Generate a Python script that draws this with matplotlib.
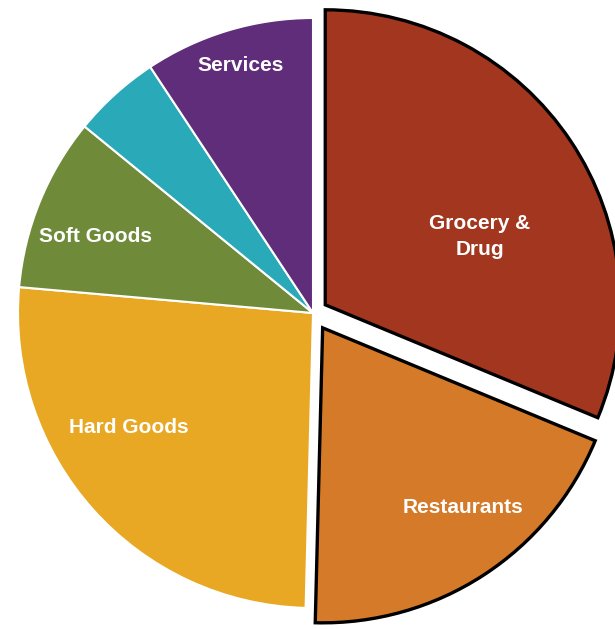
import numpy as np
import matplotlib
matplotlib.use('Agg')
import matplotlib.pyplot as plt

plt.rcParams['font.family'] = ['Liberation Sans', 'DejaVu Sans']

# share of spending by category, clockwise from 12 o'clock
categories = ['Grocery &\nDrug', 'Restaurants', 'Hard Goods', 'Soft Goods', '', 'Services']
shares = [31.25, 19.15, 26.0, 9.5, 4.8, 9.3]
colors = ['#A3361F', '#D47A28', '#E8A823', '#6F8B3A', '#2AAAB8', '#5F2D7A']
explode = [0.05, 0.06, 0, 0, 0, 0]
highlighted = [True, True, False, False, False, False]

# label placement inside each wedge: (angle offset from wedge middle in degrees, radius)
label_layout = [(-10, 0.573), (5, 0.775), (-10, 0.735), (2.8, 0.78), (0, 0.7), (-0.4, 0.875)]

fig = plt.figure(figsize=(6.15, 6.29), dpi=100)
ax = fig.add_axes([0, 0, 1, 1])

wedges, _ = ax.pie(shares, colors=colors, explode=explode, startangle=90,
                   counterclock=False, radius=1.0,
                   wedgeprops=dict(edgecolor='white', linewidth=1.5))

for w, hl in zip(wedges, highlighted):
    if hl:
        w.set_edgecolor('black')
        w.set_linewidth(2.4)
        w.set_zorder(3)

for w, name, (dang, rad) in zip(wedges, categories, label_layout):
    if not name:
        continue
    ang = np.deg2rad((w.theta1 + w.theta2) / 2 + dang)
    cx, cy = w.center
    ax.text(cx + rad * np.cos(ang), cy + rad * np.sin(ang), name,
            ha='center', va='center', color='white', fontsize=15,
            fontweight='bold', linespacing=1.45, zorder=5)

# pie centre sits left of the figure middle, right and bottom edges get cut off
R = 295
ax.set_xlim(-313 / R, (615 - 313) / R)
ax.set_ylim(-(629 - 313) / R, 313 / R)
ax.set_aspect('equal')
ax.axis('off')

fig.savefig('out.png', dpi=100)
